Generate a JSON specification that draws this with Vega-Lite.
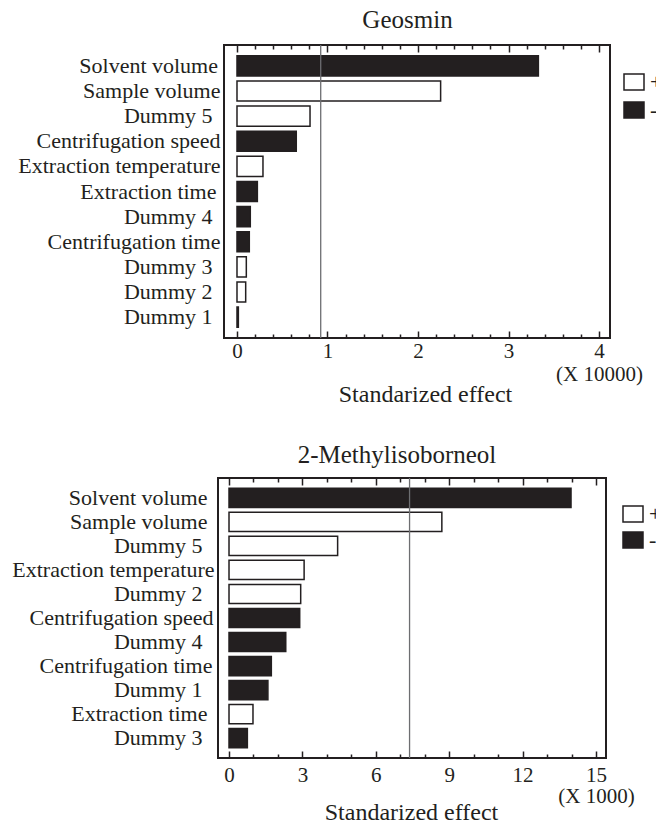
{
  "$schema": "https://vega.github.io/schema/vega-lite/v6.json",
  "background": "white",
  "padding": {"left": 10, "top": 8, "right": 0, "bottom": 0},
  "autosize": {"type": "pad"},
  "datasets": {
    "geo": [
      {"factor": "Solvent volume", "effect": 3.33, "sign": "-"},
      {"factor": "Sample volume", "effect": 2.25, "sign": "+"},
      {"factor": "Dummy 5", "effect": 0.807, "sign": "+"},
      {"factor": "Centrifugation speed", "effect": 0.655, "sign": "-"},
      {"factor": "Extraction temperature", "effect": 0.287, "sign": "+"},
      {"factor": "Extraction time", "effect": 0.225, "sign": "-"},
      {"factor": "Dummy 4", "effect": 0.147, "sign": "-"},
      {"factor": "Centrifugation time", "effect": 0.136, "sign": "-"},
      {"factor": "Dummy 3", "effect": 0.103, "sign": "+"},
      {"factor": "Dummy 2", "effect": 0.096, "sign": "+"},
      {"factor": "Dummy 1", "effect": 0.015, "sign": "-"}
    ],
    "mib": [
      {"factor": "Solvent volume", "effect": 13.98, "sign": "-"},
      {"factor": "Sample volume", "effect": 8.7, "sign": "+"},
      {"factor": "Dummy 5", "effect": 4.44, "sign": "+"},
      {"factor": "Extraction temperature", "effect": 3.07, "sign": "+"},
      {"factor": "Dummy 2", "effect": 2.93, "sign": "+"},
      {"factor": "Centrifugation speed", "effect": 2.89, "sign": "-"},
      {"factor": "Dummy 4", "effect": 2.32, "sign": "-"},
      {"factor": "Centrifugation time", "effect": 1.73, "sign": "-"},
      {"factor": "Dummy 1", "effect": 1.59, "sign": "-"},
      {"factor": "Extraction time", "effect": 0.98, "sign": "+"},
      {"factor": "Dummy 3", "effect": 0.75, "sign": "-"}
    ],
    "geoRef": [{"ref": 0.925, "lo": -0.1436, "hi": 4.1215}],
    "mibRef": [{"ref": 7.38}]
  },
  "config": {
    "font": "Liberation Serif",
    "view": {"stroke": "#231f20", "strokeWidth": 2},
    "axis": {
      "labelFont": "Liberation Serif",
      "titleFont": "Liberation Serif",
      "labelColor": "#231f20",
      "titleColor": "#231f20",
      "tickColor": "#231f20",
      "tickWidth": 1.5,
      "grid": false,
      "domain": false,
      "labelFontSize": 21,
      "titleFontSize": 24,
      "titleFontWeight": "normal",
      "labelFlush": false,
      "labelOverlap": false,
      "labelLimit": 0
    },
    "title": {"font": "Liberation Serif", "fontSize": 25, "fontWeight": "normal", "color": "#231f20", "frame": "group", "baseline": "alphabetic"},
    "legend": {
      "orient": "none",
      "title": null,
      "symbolType": "M-1,-0.8H1V0.8H-1Z",
      "symbolSize": 400,
      "symbolStrokeColor": "#231f20",
      "symbolStrokeWidth": 1.5,
      "labelFont": "Liberation Serif",
      "labelFontSize": 22,
      "labelColor": "#231f20",
      "labelOffset": 5,
      "padding": 0
    }
  },
  "resolve": {"scale": {"fill": "independent"}, "legend": {"fill": "independent"}},
  "spacing": 36,
  "vconcat": [
    {
      "width": 392,
      "height": 293,
      "view": {"stroke": null},
      "title": {"text": "Geosmin", "dx": -6.5, "offset": 11},
      "layer": [
        {
          "data": {"name": "geoRef"},
          "mark": {"type": "rect", "fill": "transparent", "stroke": "#231f20", "strokeWidth": 2},
          "encoding": {
            "x": {"field": "lo", "type": "quantitative", "axis": null},
            "x2": {"field": "hi"}
          }
        },
        {
          "data": {"name": "geo"},
          "mark": {"type": "bar", "stroke": "#231f20", "strokeWidth": 1.5},
          "encoding": {
            "y": {
              "field": "factor", "type": "nominal", "sort": null,
              "scale": {"paddingInner": 0.2, "paddingOuter": 0.43},
              "axis": {
                "title": null,
                "ticks": false, "labelFontSize": 22, "labelLimit": 0,
                "labelPadding": {
                  "condition": [
                    {"test": "indexof(datum.value, 'Dummy') === 0", "value": 6},
                    {"test": "datum.value === 'Extraction time'", "value": 2},
                    {"test": "datum.value === 'Solvent volume'", "value": 0.5}
                  ],
                  "value": -2
                }
              }
            },
            "x": {
              "field": "effect", "type": "quantitative",
              "scale": {"domain": [-0.1436, 4.1215], "range": [6, 392], "nice": false, "zero": false},
              "axis": {
                "orient": "bottom",
                "values": [0, 0.2, 0.4, 0.6, 0.8, 1, 1.2, 1.4, 1.6, 1.8, 2, 2.2, 2.4, 2.6, 2.8, 3, 3.2, 3.4, 3.6, 3.8, 4],
                "tickSize": {"condition": {"test": "datum.value % 1 === 0", "value": -7}, "value": -4},
                "labelExpr": "datum.value % 1 === 0 ? (datum.value === 4 ? ['4', '\u00a0\u00a0\u00a0(X 10000)'] : format(datum.value, 'd')) : ''",
                "labelLineHeight": 22.5,
                "labelPadding": 9.5,
                "title": "Standarized effect",
                "titleX": 207, "titleY": 63, "titleBaseline": "alphabetic", "titleAlign": "center"
              }
            },
            "fill": {
              "field": "sign", "type": "nominal",
              "scale": {"domain": ["+", "-"], "range": ["white", "#231f20"]},
              "legend": {"legendX": 405, "legendY": 26, "rowPadding": 6}
            }
          }
        },
        {
          "data": {"name": "geoRef"},
          "mark": {"type": "rule", "color": "#6d6e71", "strokeWidth": 1.3, "y2Offset": 3},
          "encoding": {
            "x": {
              "field": "ref", "type": "quantitative",
              "axis": {
                "orient": "top", "labels": false, "title": null,
                "values": [0, 0.2, 0.4, 0.6, 0.8, 1, 1.2, 1.4, 1.6, 1.8, 2, 2.2, 2.4, 2.6, 2.8, 3, 3.2, 3.4, 3.6, 3.8, 4],
                "tickSize": {"condition": {"test": "datum.value % 1 === 0", "value": -7}, "value": -4}
              }
            }
          }
        }
      ],
      "resolve": {"axis": {"x": "independent"}}
    },
    {
      "width": 388,
      "height": 280,
      "title": {"text": "2-Methylisoborneol", "dx": -15, "offset": 9},
      "layer": [
        {
          "data": {"name": "mib"},
          "mark": {"type": "bar", "stroke": "#231f20", "strokeWidth": 1.5},
          "encoding": {
            "y": {
              "field": "factor", "type": "nominal", "sort": null,
              "scale": {"paddingInner": 0.2, "paddingOuter": 0.43},
              "axis": {
                "title": null,
                "ticks": false, "labelFontSize": 22, "labelLimit": 0,
                "labelPadding": {
                  "condition": [
                    {"test": "indexof(datum.value, 'Dummy') === 0", "value": 16},
                    {"test": "datum.value === 'Solvent volume' || datum.value === 'Sample volume' || datum.value === 'Extraction time'", "value": 11},
                    {"test": "datum.value === 'Centrifugation time'", "value": 6},
                    {"test": "datum.value === 'Centrifugation speed'", "value": 5}
                  ],
                  "value": 4
                }
              }
            },
            "x": {
              "field": "effect", "type": "quantitative",
              "scale": {"domain": [-0.45, 15.41], "nice": false, "zero": false},
              "axis": {
                "orient": "bottom",
                "values": [0, 1, 2, 3, 4, 5, 6, 7, 8, 9, 10, 11, 12, 13, 14, 15],
                "tickSize": {"condition": {"test": "datum.value % 3 === 0", "value": -7}, "value": -4},
                "labelExpr": "datum.value % 3 === 0 ? (datum.value === 15 ? ['15', '\u00a0\u00a0\u00a0\u00a0\u00a0(X 1000)'] : format(datum.value, 'd')) : ''",
                "labelLineHeight": 21,
                "labelPadding": 13,
                "title": "Standarized effect",
                "titleX": 193, "titleY": 61, "titleBaseline": "alphabetic", "titleAlign": "center"
              }
            },
            "fill": {
              "field": "sign", "type": "nominal",
              "scale": {"domain": ["+", "-"], "range": ["white", "#231f20"]},
              "legend": {"legendX": 404, "legendY": 25, "rowPadding": 4}
            }
          }
        },
        {
          "data": {"name": "mibRef"},
          "mark": {"type": "rule", "color": "#6d6e71", "strokeWidth": 1.3, "y2Offset": 3},
          "encoding": {
            "x": {
              "field": "ref", "type": "quantitative",
              "axis": {
                "orient": "top", "labels": false, "title": null,
                "values": [0, 1, 2, 3, 4, 5, 6, 7, 8, 9, 10, 11, 12, 13, 14, 15],
                "tickSize": {"condition": {"test": "datum.value % 3 === 0", "value": -7}, "value": -4}
              }
            }
          }
        }
      ],
      "resolve": {"axis": {"x": "independent"}}
    }
  ]
}
